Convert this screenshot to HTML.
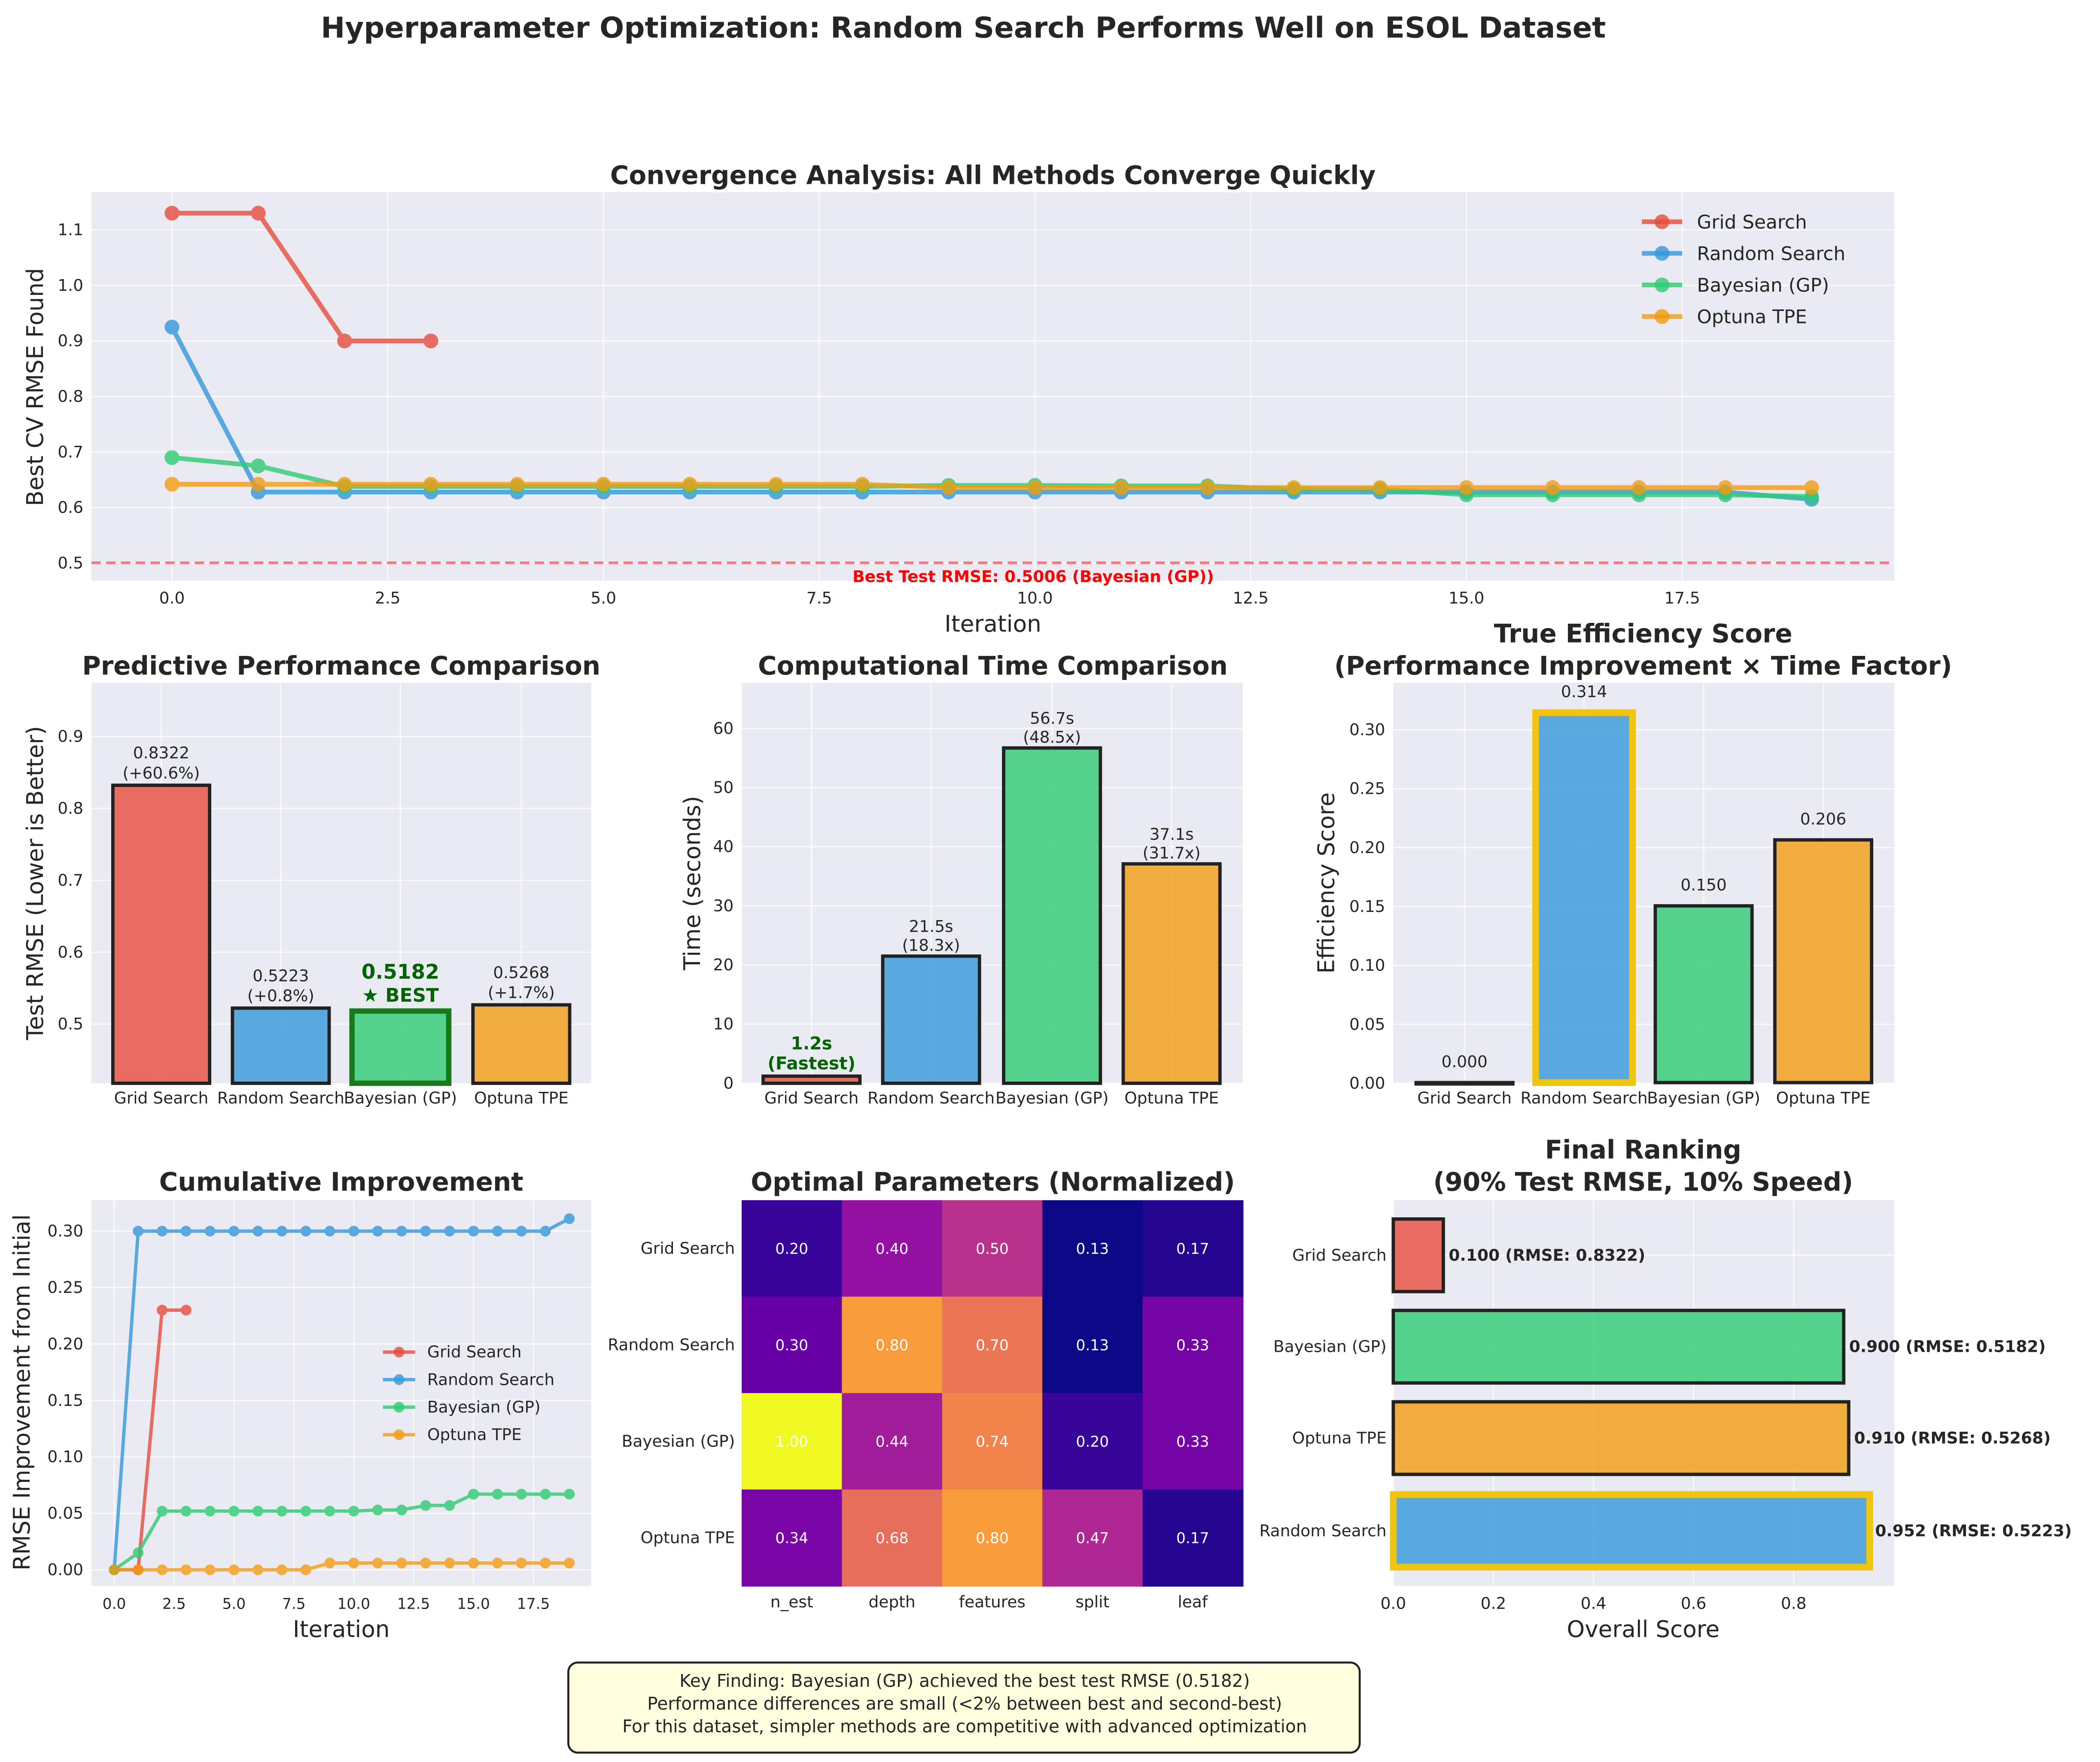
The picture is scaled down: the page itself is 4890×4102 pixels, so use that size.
<!DOCTYPE html>
<html><head><meta charset="utf-8">
<style>
html,body{margin:0;padding:0;background:#fff;}
svg{display:block;font-family:"DejaVu Sans","Liberation Sans",sans-serif;}
</style></head>
<body>
<svg id="fig" width="4890" height="4102" viewBox="0 0 1563 1311" preserveAspectRatio="none" xmlns="http://www.w3.org/2000/svg"></svg>
<script>
// ---------- data ----------
const methods = ["Grid Search","Random Search","Bayesian (GP)","Optuna TPE"];
const colors = ["#e74c3c","#3498db","#2ecc71","#f39c12"];
const convGrid = [1.13,1.13,0.90,0.90];
const convRandom = [0.925,0.628,0.628,0.628,0.628,0.628,0.628,0.628,0.628,0.628,0.628,0.628,0.628,0.628,0.628,0.628,0.628,0.628,0.628,0.615];
const convBayes = [0.690,0.675,0.638,0.638,0.638,0.638,0.638,0.638,0.638,0.640,0.640,0.639,0.639,0.633,0.633,0.623,0.623,0.623,0.623,0.620];
const convOptuna = [0.642,0.642,0.642,0.642,0.642,0.642,0.642,0.642,0.642,0.636,0.636,0.636,0.636,0.636,0.636,0.636,0.636,0.636,0.636,0.636];
const bestTest = 0.5006;
const testRmse = [0.8322,0.5223,0.5182,0.5268];
const rmsePct = ["(+60.6%)","(+0.8%)","","(+1.7%)"];
const times = [1.2,21.5,56.7,37.1];
const timeRatio = ["(Fastest)","(18.3x)","(48.5x)","(31.7x)"];
const effScore = [0.000,0.314,0.150,0.206];
const cumGrid = [0,0,0.23,0.23];
const cumRandom = [0,0.30,0.30,0.30,0.30,0.30,0.30,0.30,0.30,0.30,0.30,0.30,0.30,0.30,0.30,0.30,0.30,0.30,0.30,0.311];
const cumBayes = [0,0.015,0.052,0.052,0.052,0.052,0.052,0.052,0.052,0.052,0.052,0.053,0.053,0.057,0.057,0.067,0.067,0.067,0.067,0.067];
const cumOptuna = [0,0,0,0,0,0,0,0,0,0.006,0.006,0.006,0.006,0.006,0.006,0.006,0.006,0.006,0.006,0.006];
const paramNames = ["n_est","depth","features","split","leaf"];
const paramVals = [[0.20,0.40,0.50,0.13,0.17],[0.30,0.80,0.70,0.13,0.33],[1.00,0.44,0.74,0.20,0.33],[0.34,0.68,0.80,0.47,0.17]];
const rankOrder = ["Grid Search","Bayesian (GP)","Optuna TPE","Random Search"];
const rankScore = [0.100,0.900,0.910,0.952];
const rankRmse = ["0.8322","0.5182","0.5268","0.5223"];
const rankColors = ["#e74c3c","#2ecc71","#f39c12","#3498db"];

// ---------- helpers ----------
const NS="http://www.w3.org/2000/svg";
const svg=document.getElementById('fig');
function el(tag,attrs,parent,text){const e=document.createElementNS(NS,tag);for(const k in attrs)e.setAttribute(k,attrs[k]);if(text!==undefined)e.textContent=text;(parent||svg).appendChild(e);return e;}
function txt(x,y,s,size,opts,parent){opts=opts||{};const e=el('text',Object.assign({x:x,y:y,'font-size':size,fill:opts.fill||'#262626','text-anchor':opts.anchor||'middle','font-weight':opts.bold?'bold':'normal'},opts.rot?{transform:`rotate(${opts.rot} ${x} ${y})`}:{}),parent,s);return e;}
function lin(d0,d1,p0,p1){return v=>p0+(v-d0)*(p1-p0)/(d1-d0);}
function axesBg(x0,y0,x1,y1,name){const r=el('rect',{x:x0,y:y0,width:x1-x0,height:y1-y0,fill:'#eaeaf2'});return r;}
function hgrid(x0,x1,y){el('line',{x1:x0,x2:x1,y1:y,y2:y,stroke:'#fff','stroke-opacity':0.7,'stroke-width':1});}
function vgrid(y0,y1,x){el('line',{x1:x,x2:x,y1:y0,y2:y1,stroke:'#fff','stroke-opacity':0.7,'stroke-width':1});}

// main title
let t=txt(717,28,"Hyperparameter Optimization: Random Search Performs Well on ESOL Dataset",21.5,{bold:true});


// ---------- Convergence ----------
{
 const X0=68,X1=1410,Y0=143,Y1=432;
 const sx=lin(0,17.5,128,1252), sy=lin(0.5,1.1,419,171);
 axesBg(X0,Y0,X1,Y1,'convergence-axes');
 [0.5,0.6,0.7,0.8,0.9,1.0,1.1].forEach(v=>{hgrid(X0,X1,sy(v));txt(X0-6,sy(v)+4,v.toFixed(1),12,{anchor:'end'});});
 [0,2.5,5,7.5,10,12.5,15,17.5].forEach(v=>{vgrid(Y0,Y1,sx(v));txt(sx(v),Y1+17,v.toFixed(1),12);});
 t=txt(739,137,"Convergence Analysis: All Methods Converge Quickly",19,{bold:true});
 t=txt(739,470,"Iteration",17);
 t=txt(32,288,"Best CV RMSE Found",17,{rot:-90});
 const ln=el('line',{x1:X0,x2:X1,y1:sy(bestTest),y2:sy(bestTest),stroke:'#ff0000','stroke-opacity':0.5,'stroke-width':2,'stroke-dasharray':'7,4'});
 
 txt(769,433,"Best Test RMSE: 0.5006 (Bayesian (GP))",12,{bold:true,fill:'#ff0000'});
 const series=[convGrid,convRandom,convBayes,convOptuna];
 series.forEach((s,i)=>{
  const g=el('g',{opacity:0.8});
  
  
  el('polyline',{points:s.map((v,k)=>sx(k)+','+sy(v)).join(' '),fill:'none',stroke:colors[i],'stroke-width':3.5},g);
  s.forEach((v,k)=>el('circle',{cx:sx(k),cy:sy(v),r:5.5,fill:colors[i]},g));
 });
 methods.forEach((m,i)=>{
  const y=165+i*23.5;
  const g=el('g',{});
  el('line',{x1:1222,x2:1252,y1:y,y2:y,stroke:colors[i],'stroke-width':3.5,opacity:0.8},g);
  el('circle',{cx:1237,cy:y,r:5.5,fill:colors[i],opacity:0.8},g);
  txt(1263,y+5,m,14,{anchor:'start'},g);
 });
}

const CY0=508,CY1=806;
// Predictive performance
{
 const X0=68,X1=440,centers=[120,209,298,388];
 const sy=lin(0.5,0.9,762,548);
 axesBg(X0,CY0,X1,CY1,'performance-axes');
 [0.5,0.6,0.7,0.8,0.9].forEach(v=>{hgrid(X0,X1,sy(v));txt(X0-6,sy(v)+4,v.toFixed(1),12,{anchor:'end'});});
 centers.forEach(c=>vgrid(CY0,CY1,c));
 t=txt(254,502,"Predictive Performance Comparison",19,{bold:true});
 t=txt(32,657,"Test RMSE (Lower is Better)",17,{rot:-90});
 testRmse.forEach((v,i)=>{
  const best=i===2;
  const r=el('rect',{x:centers[i]-36,y:sy(v),width:72,height:CY1-sy(v),fill:colors[i],'fill-opacity':0.8,stroke:best?'#1a7a1a':'#222','stroke-width':best?4:2.5});
  
  txt(centers[i],CY1+15,methods[i],12);
  if(best){txt(centers[i],sy(v)-24,v.toFixed(4),15,{bold:true,fill:'#006400'});txt(centers[i],sy(v)-7,"★ BEST",14,{bold:true,fill:'#006400'});}
  else{txt(centers[i],sy(v)-20,v.toFixed(4),12);txt(centers[i],sy(v)-5,rmsePct[i],12);}
 });
}
// Time
{
 const X0=552,X1=925,centers=[604,693,783,872];
 const sy=lin(0,60,806,542);
 axesBg(X0,CY0,X1,CY1,'time-axes');
 [0,10,20,30,40,50,60].forEach(v=>{hgrid(X0,X1,sy(v));txt(X0-6,sy(v)+4,String(v),12,{anchor:'end'});});
 centers.forEach(c=>vgrid(CY0,CY1,c));
 t=txt(739,502,"Computational Time Comparison",19,{bold:true});
 t=txt(521,657,"Time (seconds)",17,{rot:-90});
 times.forEach((v,i)=>{
  const r=el('rect',{x:centers[i]-36,y:sy(v),width:72,height:CY1-sy(v),fill:colors[i],'fill-opacity':0.8,stroke:'#222','stroke-width':2.5});
  
  txt(centers[i],CY1+15,methods[i],12);
  if(i===0){txt(centers[i],sy(v)-20,v.toFixed(1)+"s",13,{bold:true,fill:'#006400'});txt(centers[i],sy(v)-5,timeRatio[i],13,{bold:true,fill:'#006400'});}
  else{txt(centers[i],sy(v)-18,v.toFixed(1)+"s",12);txt(centers[i],sy(v)-4,timeRatio[i],12);}
 });
}
// Efficiency
{
 const X0=1037,X1=1410,centers=[1090,1179,1268,1357];
 const sy=lin(0,0.30,806,543);
 axesBg(X0,CY0,X1,CY1,'efficiency-axes');
 [0,0.05,0.10,0.15,0.20,0.25,0.30].forEach(v=>{hgrid(X0,X1,sy(v));txt(X0-6,sy(v)+4,v.toFixed(2),12,{anchor:'end'});});
 centers.forEach(c=>vgrid(CY0,CY1,c));
 t=txt(1223,478,"True Efficiency Score",19,{bold:true});
 t=txt(1223,502,"(Performance Improvement × Time Factor)",19,{bold:true});
 t=txt(993,657,"Efficiency Score",17,{rot:-90});
 effScore.forEach((v,i)=>{
  const gold=i===1;
  const r=el('rect',{x:centers[i]-36,y:sy(v)-0.5,width:72,height:Math.max(1,CY1-sy(v)),fill:colors[i],'fill-opacity':0.8,stroke:gold?'#f1c40f':'#222','stroke-width':gold?5:2.5});
  
  txt(centers[i],CY1+15,methods[i],12);
  txt(centers[i],sy(v)-12,v.toFixed(3),12);
 });
}

// ---------- Cumulative ----------
{
 const X0=68,X1=440,Y0=893,Y1=1180;
 const sx=lin(0,17.5,85,397), sy=lin(0,0.30,1168,916);
 axesBg(X0,Y0,X1,Y1,'cumulative-axes');
 [0,0.05,0.10,0.15,0.20,0.25,0.30].forEach(v=>{hgrid(X0,X1,sy(v));txt(X0-6,sy(v)+4,v.toFixed(2),12,{anchor:'end'});});
 [0,2.5,5,7.5,10,12.5,15,17.5].forEach(v=>{vgrid(Y0,Y1,sx(v));txt(sx(v),Y1+17,v.toFixed(1),11);});
 t=txt(254,886,"Cumulative Improvement",19,{bold:true});
 t=txt(254,1218,"Iteration",17);
 t=txt(22,1036,"RMSE Improvement from Initial",17,{rot:-90});
 [cumGrid,cumRandom,cumBayes,cumOptuna].forEach((s,i)=>{
  const g=el('g',{opacity:0.8});
  el('polyline',{points:s.map((v,k)=>sx(k)+','+sy(v)).join(' '),fill:'none',stroke:colors[i],'stroke-width':2.5},g);
  s.forEach((v,k)=>el('circle',{cx:sx(k),cy:sy(v),r:4,fill:colors[i]},g));
 });
 methods.forEach((m,i)=>{
  const y=1006+i*20.5;
  const g=el('g',{});
  el('line',{x1:285,x2:309,y1:y,y2:y,stroke:colors[i],'stroke-width':2.5,opacity:0.8},g);
  el('circle',{cx:297,cy:y,r:4,fill:colors[i],opacity:0.8},g);
  txt(318,y+4,m,12,{anchor:'start'},g);
 });
}

// ---------- Heatmap ----------
{
 const X0=552,X1=925,Y0=893,Y1=1180;
 const cw=(X1-X0)/5,ch=(Y1-Y0)/4;
 const stops=["#0d0887","#41049d","#6a00a8","#8f0da4","#b12a90","#cc4778","#e16462","#f2844b","#fca636","#fcce25","#f0f921"];
 function hx(h){return [1,3,5].map(k=>parseInt(h.substr(k,2),16));}
 function plasma(u){u=Math.max(0,Math.min(1,u));const p=u*10,i=Math.min(9,Math.floor(p)),f=p-i;const a=hx(stops[i]),b=hx(stops[i+1]);return 'rgb('+a.map((c,k)=>Math.round(c+(b[k]-c)*f)).join(',')+')';}
 const flat=paramVals.flat();const mn=Math.min(...flat),mx=Math.max(...flat);
 t=txt(739,886,"Optimal Parameters (Normalized)",19,{bold:true});
 paramVals.forEach((row,r)=>{
  txt(X0-5,Y0+ch*(r+0.5)+4,methods[r],12,{anchor:'end'});
  row.forEach((v,c)=>{
   const rc=el('rect',{x:X0+c*cw,y:Y0+r*ch,width:cw+0.5,height:ch+0.5,fill:plasma((v-mn)/(mx-mn))});
   
   txt(X0+c*cw+cw/2,Y0+r*ch+ch/2+4,v.toFixed(2),11,{fill:'#fff'});
  });
 });
 paramNames.forEach((n,c)=>txt(X0+c*cw+cw/2,Y1+16,n,12));
}

// ---------- Final ranking ----------
{
 const X0=1037,X1=1410,Y0=893,Y1=1180;
 const sx=lin(0,0.8,1037,1335);
 const centers=[934,1002,1070,1139];
 axesBg(X0,Y0,X1,Y1,'ranking-axes');
 [0,0.2,0.4,0.6,0.8].forEach(v=>{vgrid(Y0,Y1,sx(v));txt(sx(v),Y1+17,v.toFixed(1),12);});
 centers.forEach(c=>hgrid(X0,X1,c));
 t=txt(1223,862,"Final Ranking",19,{bold:true});
 txt(1223,886,"(90% Test RMSE, 10% Speed)",19,{bold:true});
 t=txt(1223,1218,"Overall Score",17);
 rankScore.forEach((v,i)=>{
  const gold=rankOrder[i]==="Random Search";
  const r=el('rect',{x:sx(0),y:centers[i]-27,width:sx(v)-sx(0),height:54,fill:rankColors[i],'fill-opacity':0.8,stroke:gold?'#f1c40f':'#222','stroke-width':gold?5:2.5});
  
  txt(X0-5,centers[i]+4,rankOrder[i],12,{anchor:'end'});
  txt(sx(v)+4,centers[i]+4,v.toFixed(3)+" (RMSE: "+rankRmse[i]+")",12,{anchor:'start',bold:true});
 });
}

// ---------- Key finding box ----------
{
 const g=el('g',{});
 el('rect',{x:423,y:1237,width:589,height:67,rx:7,fill:'#ffffe0',stroke:'#222','stroke-width':1.5},g);
 txt(718,1255,"Key Finding: Bayesian (GP) achieved the best test RMSE (0.5182)",13,{},g);
 txt(718,1272,"Performance differences are small (<2% between best and second-best)",13,{},g);
 txt(718,1289,"For this dataset, simpler methods are competitive with advanced optimization",13,{},g);
}
</script>
</body></html>
